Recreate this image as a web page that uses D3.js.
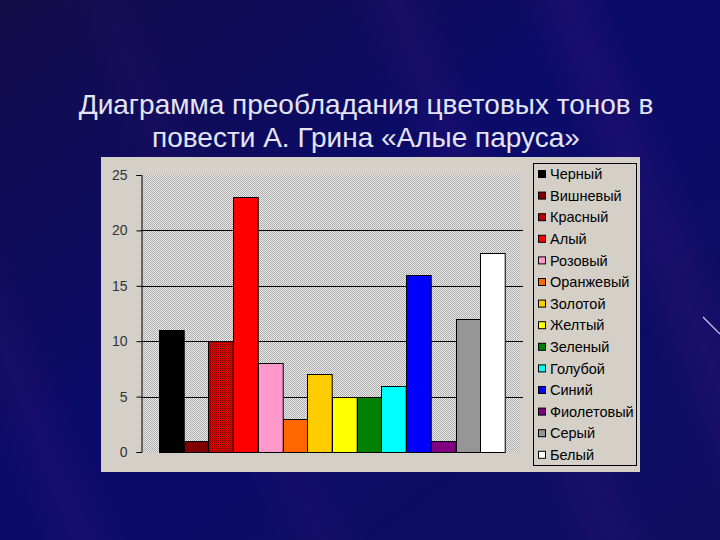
<!DOCTYPE html>
<html>
<head>
<meta charset="utf-8">
<script src="https://cdn.jsdelivr.net/npm/d3@7"></script>
<style>
  body { margin: 0; background: #0c0c6a; }
  svg { display: block; }
</style>
</head>
<body>
<div id="graph"></div>
<script>
// data
var colorNames = ["Черный", "Вишневый", "Красный", "Алый", "Розовый", "Оранжевый", "Золотой",
                  "Желтый", "Зеленый", "Голубой", "Синий", "Фиолетовый", "Серый", "Белый"];
var counts = [11, 1, 10, 23, 8, 3, 7, 5, 5, 6, 16, 1, 12, 18];
var fills = ["#000000", "#800000", "url(#redDots)", "#ff0000", "#ff99cc", "#ff6600", "#ffcc00",
             "#ffff00", "#008000", "#00ffff", "#0000ff", "#800080", "#969696", "#ffffff"];
var yTicks = [0, 5, 10, 15, 20, 25];
var titleLines = ["Диаграмма преобладания цветовых тонов в", "повести А. Грина «Алые паруса»"];

var W = 720, H = 540;

var svg = d3.select("#graph")
  .append("svg")
    .attr("width", W)
    .attr("height", H);

var defs = svg.append("defs");

// slide background
var bg = defs.append("linearGradient")
    .attr("id", "bgGrad")
    .attr("x1", 0).attr("y1", 0).attr("x2", 1).attr("y2", 1);
bg.append("stop").attr("offset", "0%").attr("stop-color", "#130c48");
bg.append("stop").attr("offset", "45%").attr("stop-color", "#0b0b6a");
bg.append("stop").attr("offset", "100%").attr("stop-color", "#0f0e62");

var streak = defs.append("linearGradient")
    .attr("id", "streak")
    .attr("x1", 0).attr("y1", 0).attr("x2", 1).attr("y2", 0);
streak.append("stop").attr("offset", "0%").attr("stop-color", "#4a1880").attr("stop-opacity", 0);
streak.append("stop").attr("offset", "50%").attr("stop-color", "#4a1880").attr("stop-opacity", 0.45);
streak.append("stop").attr("offset", "100%").attr("stop-color", "#4a1880").attr("stop-opacity", 0);

// hatched plot area and dotted red bar
var hatch = defs.append("pattern")
    .attr("id", "hatch")
    .attr("width", 2).attr("height", 2)
    .attr("patternUnits", "userSpaceOnUse");
hatch.append("rect").attr("width", 2).attr("height", 2).attr("fill", "#eaeaea");
hatch.append("rect").attr("width", 1).attr("height", 1).attr("fill", "#acacac");
hatch.append("rect").attr("x", 1).attr("y", 1).attr("width", 1).attr("height", 1).attr("fill", "#acacac");

var redDots = defs.append("pattern")
    .attr("id", "redDots")
    .attr("width", 2).attr("height", 2)
    .attr("patternUnits", "userSpaceOnUse");
redDots.append("rect").attr("width", 2).attr("height", 2).attr("fill", "#e00000");
redDots.append("rect").attr("width", 1).attr("height", 1).attr("fill", "#8c0000");
redDots.append("rect").attr("x", 1).attr("y", 1).attr("width", 1).attr("height", 1).attr("fill", "#8c0000");

svg.append("rect")
    .attr("width", W).attr("height", H)
    .attr("fill", "url(#bgGrad)");

// a few soft diagonal streaks
[[-60, 0.35], [180, 0.25], [470, 0.4], [640, 0.5]].forEach(function(s) {
  svg.append("rect")
      .attr("x", s[0]).attr("y", -200)
      .attr("width", 90).attr("height", 1000)
      .attr("fill", "url(#streak)")
      .attr("opacity", s[1])
      .attr("transform", "rotate(-22," + (s[0] + 45) + ",300)");
});

svg.append("line")
    .attr("x1", 703).attr("y1", 317).attr("x2", 720).attr("y2", 334)
    .attr("stroke", "#d8c8f0").attr("stroke-width", 1.2);

// title
svg.append("g")
  .selectAll("text")
  .data(titleLines)
  .join("text")
    .attr("x", 366)
    .attr("y", (d, i) => 114 + i * 33)
    .attr("text-anchor", "middle")
    .attr("fill", "#e4e4f4")
    .style("font-family", "Liberation Sans, Arial, sans-serif")
    .style("font-size", "28px")
    .text(d => d);

// chart panel
svg.append("rect")
    .attr("x", 101).attr("y", 157)
    .attr("width", 539).attr("height", 315)
    .attr("fill", "#d4d0c8");

var plot = {left: 141, right: 523, top: 175, bottom: 452};

var x = d3.scaleBand()
    .domain(colorNames)
    .range([plot.left, plot.right])
    .paddingInner(0)
    .paddingOuter(0.73);

var y = d3.scaleLinear()
    .domain([0, 25])
    .range([plot.bottom, plot.top]);

svg.append("rect")
    .attr("x", plot.left).attr("y", plot.top)
    .attr("width", plot.right - plot.left - 3)
    .attr("height", plot.bottom - plot.top)
    .attr("fill", "url(#hatch)");

// gridlines
svg.append("g")
  .selectAll("line")
  .data(yTicks.filter(d => d > 0 && d < 25))
  .join("line")
    .attr("x1", plot.left).attr("x2", plot.right)
    .attr("y1", d => Math.round(y(d)) + 0.5)
    .attr("y2", d => Math.round(y(d)) + 0.5)
    .attr("stroke", "#000");

// bars
svg.append("g")
  .selectAll("rect")
  .data(counts)
  .join("rect")
    .attr("x", (d, i) => Math.round(x(colorNames[i])) + 0.5)
    .attr("y", d => Math.round(y(d)) + 0.5)
    .attr("width", x.bandwidth())
    .attr("height", d => y(0) - Math.round(y(d)))
    .attr("fill", (d, i) => fills[i])
    .attr("stroke", "#000")
    .attr("stroke-width", 1);

// y axis
var yAxis = svg.append("g")
    .attr("transform", "translate(" + (plot.left + 0.5) + ",0)")
    .call(d3.axisLeft(y).tickValues(yTicks).tickSize(5).tickPadding(9).tickFormat(d3.format("d")));
yAxis.select(".domain").attr("stroke", "#000");
yAxis.selectAll(".tick line").attr("stroke", "#000");
yAxis.selectAll("text")
    .attr("fill", "#333")
    .style("font-family", "Liberation Sans, Arial, sans-serif")
    .style("font-size", "14px");

// legend
var legend = svg.append("g");
legend.append("rect")
    .attr("x", 533.5).attr("y", 163.5)
    .attr("width", 103).attr("height", 302)
    .attr("fill", "#d4d0c8")
    .attr("stroke", "#000");

var item = legend.selectAll("g.item")
  .data(colorNames)
  .join("g")
    .attr("class", "item")
    .attr("transform", (d, i) => "translate(538," + (174 + i * 21.6) + ")");

item.append("rect")
    .attr("x", 0.5).attr("y", -3.5)
    .attr("width", 7).attr("height", 7)
    .attr("fill", (d, i) => fills[i])
    .attr("stroke", "#000");

item.append("text")
    .attr("x", 12).attr("y", 0)
    .attr("dy", "0.36em")
    .attr("fill", "#000")
    .style("font-family", "Liberation Sans, Arial, sans-serif")
    .style("font-size", "14.5px")
    .text(d => d);
</script>
</body>
</html>
